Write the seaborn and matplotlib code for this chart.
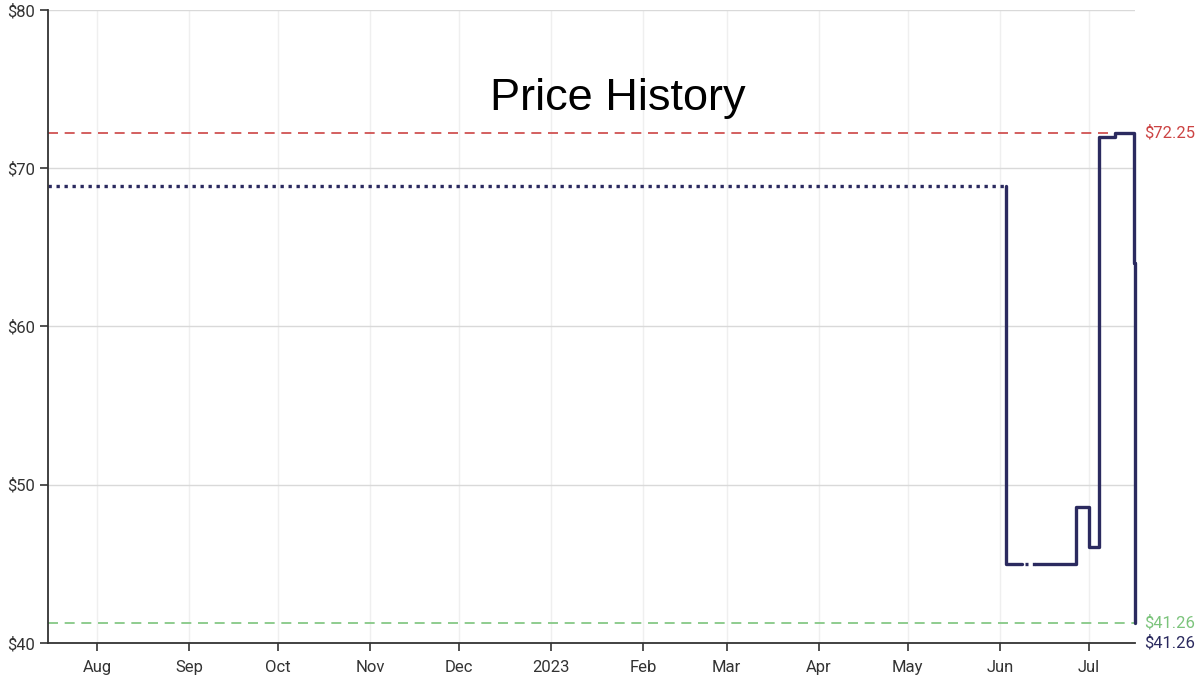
import matplotlib
matplotlib.use("Agg")
import matplotlib.pyplot as plt
import matplotlib.dates as mdates
import seaborn as sns
import pandas as pd
import numpy as np

# ---- data ----
dotted_dates = ["2022-07-15 12:00", "2023-06-03 00:00"]
dotted_prices = [68.88, 68.88]

solid1_dates = ["2023-06-03 00:00", "2023-06-03 00:00", "2023-06-08 10:00"]
solid1_prices = [68.88, 44.99, 44.99]

gap_dates = ["2023-06-08 10:00", "2023-06-12 20:00"]
gap_prices = [44.99, 44.99]

solid2_dates = ["2023-06-12 20:00", "2023-06-26 14:00", "2023-07-01 00:00",
                "2023-07-04 10:00", "2023-07-09 18:00", "2023-07-16 00:00",
                "2023-07-16 08:00", "2023-07-16 08:00"]
solid2_prices = [44.99, 48.59, 46.09, 71.99, 72.25, 63.99, 41.26, 41.26]

highest_price = 72.25
lowest_price = 41.26
current_price = 41.26
y_ticks = [40, 50, 60, 70, 80]
title_text = "Price History"

# ---- style ----
sns.set_theme(style="white")
plt.rcParams["font.family"] = ["Roboto", "DejaVu Sans"]

navy = "#2b2a5f"
red = "#cc4444"
green = "#7cc47c"

fig = plt.figure(figsize=(12, 6.81), dpi=100)
ax = fig.add_axes([48/1200, 38/681, (1135-48)/1200, (643-10)/681])

def frame(d, p):
    return pd.DataFrame({"date": pd.to_datetime(d), "price": p})

common = dict(x="date", y="price", ax=ax, color=navy, lw=2.4,
              drawstyle="steps-post", estimator=None, sort=False)
sns.lineplot(data=frame(dotted_dates, dotted_prices), linestyle=(0, (1, 1.4)), **common)
sns.lineplot(data=frame(solid1_dates, solid1_prices), **common)
sns.lineplot(data=frame(gap_dates, gap_prices), linestyle=(1.3, (0.9, 1.3)), **common)
sns.lineplot(data=frame(solid2_dates, solid2_prices), **common)
for ln in ax.lines:
    ln.set_clip_on(False)

ax.axhline(highest_price, color=red, lw=1.2, ls=(0, (6, 4)), zorder=1)
ax.axhline(lowest_price, color=green, lw=1.2, ls=(0, (6, 4)), zorder=1)

xmin = pd.Timestamp("2022-07-15 12:00")
xmax = pd.Timestamp("2023-07-16 12:00")
ax.set_xlim(xmin, xmax)
ax.set_ylim(40, 80)
ax.set_yticks(y_ticks)
ax.set_yticklabels([f"${v}" for v in y_ticks])

ax.xaxis.set_major_locator(mdates.MonthLocator())
def fmt(x, pos=None):
    d = mdates.num2date(x)
    return str(d.year) if d.month == 1 else d.strftime("%b")
ax.xaxis.set_major_formatter(plt.FuncFormatter(fmt))

ax.grid(True, axis="y", color="#d9d9d9", lw=1)
ax.grid(True, axis="x", color="#efefef", lw=1)
ax.set_axisbelow(True)
for s in ["top", "right"]:
    ax.spines[s].set_visible(False)
for s in ["left", "bottom"]:
    ax.spines[s].set_color("#333333")
    ax.spines[s].set_linewidth(1.3)
ax.tick_params(axis="both", which="major", direction="out", length=6, width=1.2,
               color="#333333", labelsize=12, labelcolor="#333333", bottom=True, left=True)
ax.tick_params(axis="x", pad=6)
ax.tick_params(axis="y", pad=3)
ax.set_xlabel("")
ax.set_ylabel("")

ax.text(0.524, 0.86, title_text, transform=ax.transAxes, ha="center", va="center",
        fontsize=32.5, color="black", family=["Liberation Sans", "DejaVu Sans"])

trans = ax.get_yaxis_transform()
ax.text(1.008, highest_price, f"${highest_price:.2f}", transform=trans, color=red,
        fontsize=12, va="center", ha="left", clip_on=False)
ax.text(1.008, lowest_price, f"${lowest_price:.2f}", transform=trans, color=green,
        fontsize=12, va="center", ha="left", clip_on=False)
ax.text(1.008, current_price - 1.25, f"${current_price:.2f}", transform=trans, color=navy,
        fontsize=12, va="center", ha="left", clip_on=False)

fig.savefig("out.png", dpi=100)
